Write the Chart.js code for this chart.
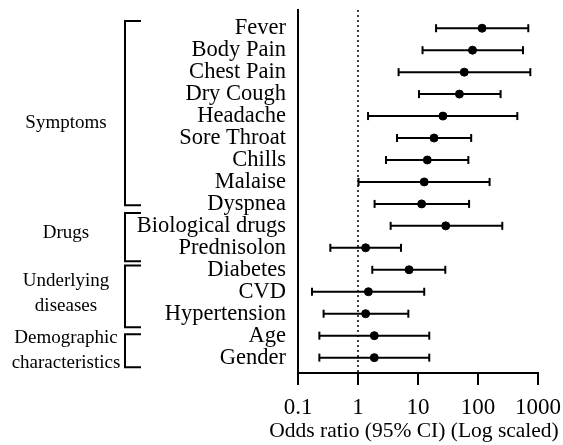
<!DOCTYPE html>
<html lang="en">
  <head>
    <meta charset="UTF-8">
    <title>Odds ratio forest plot</title>
    <style>
      html, body { margin: 0; padding: 0; background: #fff; }
      #wrap { width: 563px; height: 445px; }
    </style>
    <script src="https://cdn.jsdelivr.net/npm/chart.js"></script>
  </head>

  <body>
    <div id="wrap"><canvas id="myChart"></canvas></div>

<script>
  // rows, top to bottom
  const rowLabels = ['Fever', 'Body Pain', 'Chest Pain', 'Dry Cough', 'Headache', 'Sore Throat',
    'Chills', 'Malaise', 'Dyspnea', 'Biological drugs', 'Prednisolon', 'Diabetes', 'CVD',
    'Hypertension', 'Age', 'Gender'];
  const oddsRatio = [117, 81, 59, 49, 26, 18.5, 14.3, 12.7, 11.5, 29, 1.34, 7.1, 1.49, 1.34, 1.87, 1.87];
  const ciLow  = [20, 11.9, 4.75, 10.4, 1.47, 4.47, 2.93, 1.02, 1.89, 3.5, 0.346, 1.73, 0.171, 0.267, 0.227, 0.227];
  const ciHigh = [689, 562, 745, 238, 452, 77, 69, 156, 71, 254, 5.2, 28.5, 12.7, 6.9, 15.4, 15.4];

  const xTicks = [0.1, 1, 10, 100, 1000];
  const xTitle = 'Odds ratio (95% CI) (Log scaled)';

  // group brackets (in row units)
  const groupNames = [['Symptoms'], ['Drugs'], ['Underlying', 'diseases'], ['Demographic', 'characteristics']];
  const groupFrom = [-0.33, 8.41, 10.8, 13.94];
  const groupTo = [8.06, 10.61, 13.62, 15.44];
  const groupTextRow = [4.33, 9.33, 12.1, 14.67];

  const serif = '"Liberation Serif", "DejaVu Serif", serif';

  // error bar segments, broken by empty points
  const ciPoints = [];
  rowLabels.forEach((_, i) => {
    ciPoints.push({x: ciLow[i], y: i}, {x: ciHigh[i], y: i}, {x: null, y: null});
  });

  const brackets = {
    id: 'brackets',
    afterDraw(chart) {
      const c = chart.ctx;
      const y = chart.scales.y;
      const x = chart.scales.x;
      c.save();
      c.strokeStyle = '#000';
      c.lineWidth = 2;
      c.fillStyle = '#000';
      c.font = '19px ' + serif;
      c.textAlign = 'center';
      c.textBaseline = 'middle';
      groupNames.forEach((lines, i) => {
        const top = y.getPixelForValue(groupFrom[i]);
        const bottom = y.getPixelForValue(groupTo[i]);
        c.beginPath();
        c.moveTo(141, top);
        c.lineTo(125, top);
        c.lineTo(125, bottom);
        c.lineTo(141, bottom);
        c.stroke();
        const mid = y.getPixelForValue(groupTextRow[i]);
        lines.forEach((t, k) => {
          c.fillText(t, 66, mid + (k - (lines.length - 1) / 2) * 25);
        });
      });
      // axis title (the built-in one gets squeezed to the axis width)
      c.font = '21.5px ' + serif;
      c.fillText(xTitle, (x.left + x.right) / 2 - 4, x.bottom - 14);
      c.restore();
    }
  };

  const ctx = document.getElementById('myChart');

  new Chart(ctx, {
    type: 'scatter',
    data: {
      datasets: [
        {
          type: 'line',
          data: [{x: 1, y: -0.83}, {x: 1, y: 15.7}],
          borderColor: '#000',
          borderWidth: 1.5,
          borderDash: [2, 3],
          pointRadius: 0,
        },
        {
          type: 'line',
          data: ciPoints,
          borderColor: '#000',
          borderWidth: 2,
          spanGaps: false,
          pointStyle: 'line',
          rotation: 90,
          pointRadius: 4,
          pointBorderWidth: 2,
          pointBorderColor: '#000',
        },
        {
          data: oddsRatio.map((v, i) => ({x: v, y: i})),
          backgroundColor: '#000',
          borderColor: '#000',
          pointRadius: 4,
        },
      ]
    },
    options: {
      animation: false,
      responsive: true,
      maintainAspectRatio: false,
      layout: { padding: { top: 10, right: 25, left: 0, bottom: 0 } },
      plugins: { legend: { display: false }, tooltip: { enabled: false } },
      scales: {
        x: {
          type: 'logarithmic',
          min: 0.1,
          max: 1000,
          afterBuildTicks: (s) => { s.ticks = xTicks.map(v => ({value: v})); },
          afterFit: (s) => { s.height = 72; s.paddingLeft = 0; s.paddingRight = 0; },
          grid: { drawOnChartArea: false, drawTicks: true, tickLength: 12, color: '#000', lineWidth: 2 },
          border: { color: '#000', width: 2 },
          ticks: {
            color: '#000',
            padding: 9,
            maxRotation: 0,
            font: { family: serif, size: 23 },
            callback: (v) => String(v),
          },
        },
        y: {
          type: 'linear',
          reverse: true,
          min: -0.83,
          max: 15.7,
          afterBuildTicks: (s) => { s.ticks = rowLabels.map((_, i) => ({value: i})); },
          afterFit: (s) => { s.width = 298; s.paddingTop = 0; s.paddingBottom = 0; },
          grid: { display: false, drawTicks: false },
          border: { color: '#000', width: 2 },
          ticks: {
            color: '#000',
            padding: 12,
            autoSkip: false,
            font: { family: serif, size: 22.5 },
            callback: (v) => rowLabels[v],
          },
        },
      }
    },
    plugins: [brackets]
  });
</script>

  </body>
</html>
